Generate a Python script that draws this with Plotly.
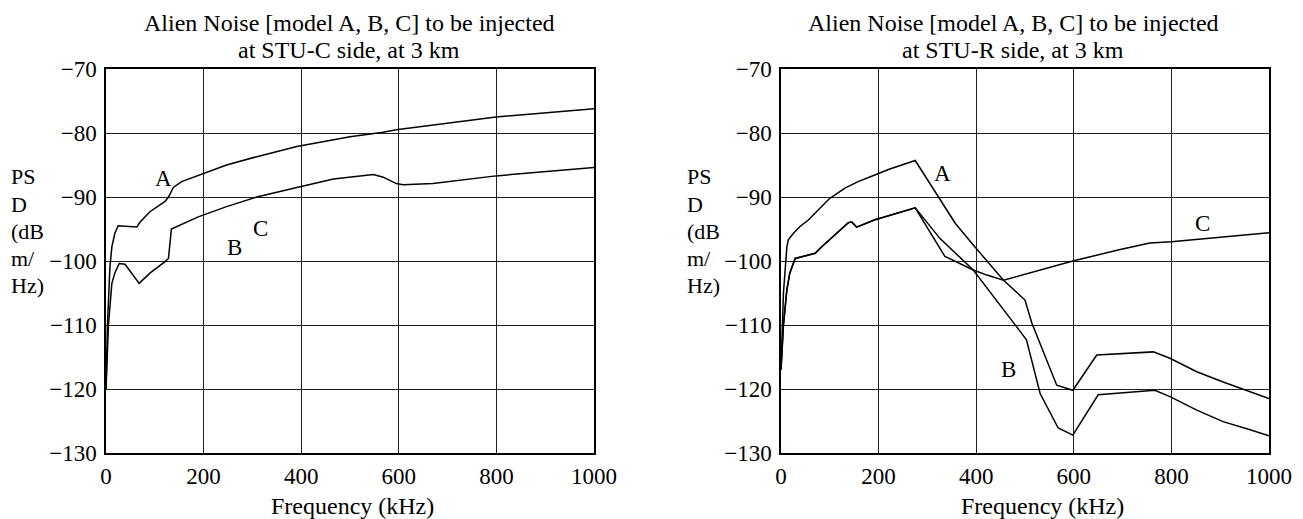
import plotly.graph_objects as go

# fenetre et police
W, H = 1303, 519
OFF = 8                      # marge du <body> de la page html
WF, HF = W - OFF, H - OFF    # taille reelle de la figure
FONT = "Liberation Serif"

c_freq_A = [0, 3, 8, 12, 18, 25, 63, 70, 90, 121, 128, 138, 155, 189, 247, 309,
            391, 500, 568, 595, 799, 1000]
c_psd_A = [-120, -110, -101, -97.8, -95.7, -94.5, -94.7, -93.9, -92.3, -90.7, -90, -88.5,
           -87.6, -86.6, -85, -83.7, -82.1, -80.6, -79.9, -79.5, -77.5, -76.2]

c_freq_B = [0, 5, 12, 18, 27, 39, 68, 90, 121, 128, 134, 165, 189, 247, 309, 391,
            466, 548, 568, 595, 609, 670, 799, 1000]
c_psd_B = [-120, -110, -103.5, -101.9, -100.4, -100.5, -103.5, -101.9, -100.1, -99.6, -95,
           -93.9, -93.1, -91.5, -90, -88.5, -87.2, -86.5, -86.9, -87.9, -88.1, -87.9,
           -86.7, -85.4]

r_freq_A = [0, 5, 12, 15, 25, 39, 56, 76, 100, 131, 158, 191, 220, 275, 357, 394,
            456, 500, 514, 565, 598, 647, 695, 763, 797, 852, 906, 1000]
r_psd_A = [-117, -105, -97.8, -96.7, -95.7, -94.6, -93.6, -92, -90.2, -88.6, -87.6, -86.6,
           -85.7, -84.3, -94.1, -97.5, -103, -106.1, -109.7, -119.4, -120.2, -114.7,
           -114.5, -114.2, -115.2, -117.3, -118.9, -121.5]

r_freq_B = [0, 5, 12, 18, 29, 70, 83, 114, 138, 145, 155, 191, 275, 326, 357, 394,
            490, 503, 531, 568, 598, 650, 766, 797, 852, 906, 958, 1000]
r_psd_B = [-117, -110, -104.5, -101.9, -99.6, -98.8, -97.8, -95.7, -94, -93.9, -94.7,
           -93.6, -91.7, -96.5, -98.8, -101.4, -111, -112.3, -120.7, -126.1, -127.2,
           -120.9, -120.2, -121.2, -123.3, -125.1, -126.3, -127.3]

r_freq_C = [0, 5, 12, 18, 29, 70, 83, 114, 138, 145, 155, 191, 275, 336, 357, 394,
            422, 456, 598, 695, 756, 800, 1000]
r_psd_C = [-117, -110, -104.5, -101.9, -99.6, -98.8, -97.8, -95.7, -94, -93.9, -94.7,
           -93.6, -91.7, -99.3, -100.1, -101.4, -102.2, -103, -100, -98.2, -97.2, -97,
           -95.6]

# etiquettes des courbes
c_labels = [("A", 117, -87.1), ("B", 264, -97.9), ("C", 317, -94.9)]
r_labels = [("A", 330, -86.3), ("B", 466, -117.0), ("C", 864, -94.1)]

title_line1 = "Alien Noise [model A, B, C] to be injected"
title_line2 = ["at STU-C side, at 3 km", "at STU-R side, at 3 km"]
ylabel_lines = ["PS", "D", "(dB", "m/", "Hz)"]
xlabel = "Frequency (kHz)"

y_ticks = [-70, -80, -90, -100, -110, -120, -130]
x_ticks = [0, 200, 400, 600, 800, 1000]

# ---- position des zones de trace (pixels de la fenetre)
px_left = [(106, 594), (781, 1269)]
py_top, py_bot = 69, 453
title_cx = [349, 1013]
xlab_cx = [352, 1042]
ylab_x = [9, 685]


def px2paper_x(p):
    return (p - OFF) / WF


def px2paper_y(p):
    return 1 - (p - OFF) / HF


fig = go.Figure()

lineStyle = dict(color="black", width=1.5)
fig.add_trace(go.Scatter(x=c_freq_A, y=c_psd_A, mode="lines", line=lineStyle, xaxis="x", yaxis="y"))
fig.add_trace(go.Scatter(x=c_freq_B, y=c_psd_B, mode="lines", line=lineStyle, xaxis="x", yaxis="y"))
fig.add_trace(go.Scatter(x=r_freq_A, y=r_psd_A, mode="lines", line=lineStyle, xaxis="x2", yaxis="y2"))
fig.add_trace(go.Scatter(x=r_freq_B, y=r_psd_B, mode="lines", line=lineStyle, xaxis="x2", yaxis="y2"))
fig.add_trace(go.Scatter(x=r_freq_C, y=r_psd_C, mode="lines", line=lineStyle, xaxis="x2", yaxis="y2"))

xaxis_common = dict(range=[0, 1000], tickvals=x_ticks, showgrid=True, gridcolor="#222",
                    gridwidth=1, showline=True, linecolor="black", linewidth=1.5, mirror=True,
                    zeroline=False, ticks="", ticklabelstandoff=2, automargin=False,
                    tickfont=dict(size=23))
yaxis_common = dict(range=[-130, -70], tickvals=y_ticks, showgrid=True, gridcolor="#222",
                    gridwidth=1, showline=True, linecolor="black", linewidth=1.5, mirror=True,
                    zeroline=False, ticks="", ticklabelstandoff=3, automargin=False,
                    tickfont=dict(size=23))

ydom = [px2paper_y(py_bot), px2paper_y(py_top)]
fig.update_layout(
    width=WF, height=HF,
    margin=dict(l=0, r=0, t=0, b=0),
    paper_bgcolor="white", plot_bgcolor="white",
    showlegend=False,
    font=dict(family=FONT, size=22, color="black"),
    xaxis=dict(domain=[px2paper_x(px_left[0][0]), px2paper_x(px_left[0][1])], anchor="y", **xaxis_common),
    yaxis=dict(domain=ydom, anchor="x", **yaxis_common),
    xaxis2=dict(domain=[px2paper_x(px_left[1][0]), px2paper_x(px_left[1][1])], anchor="y2", **xaxis_common),
    yaxis2=dict(domain=ydom, anchor="x2", **yaxis_common),
)

# etiquettes A B C
for lab, x, y in c_labels:
    fig.add_annotation(x=x, y=y, xref="x", yref="y", text=lab, showarrow=False, font=dict(size=23))
for lab, x, y in r_labels:
    fig.add_annotation(x=x, y=y, xref="x2", yref="y2", text=lab, showarrow=False, font=dict(size=23))


def paper_text(txt, px, py, size, xanchor="center"):
    fig.add_annotation(x=px2paper_x(px), y=px2paper_y(py), xref="paper", yref="paper",
                       text=txt, showarrow=False, xanchor=xanchor, yanchor="middle",
                       font=dict(size=size))


# titres, titre de l'axe x et titre de l'axe y
for i in range(2):
    paper_text(title_line1, title_cx[i], 23, 24)
    paper_text(title_line2[i], title_cx[i], 50, 24)
    paper_text(xlabel, xlab_cx[i], 506, 24)
    for k, txt in enumerate(ylabel_lines):
        paper_text(txt, ylab_x[i], 177 + 27 * k, 22, xanchor="left")

fig.write_html("out.html")
